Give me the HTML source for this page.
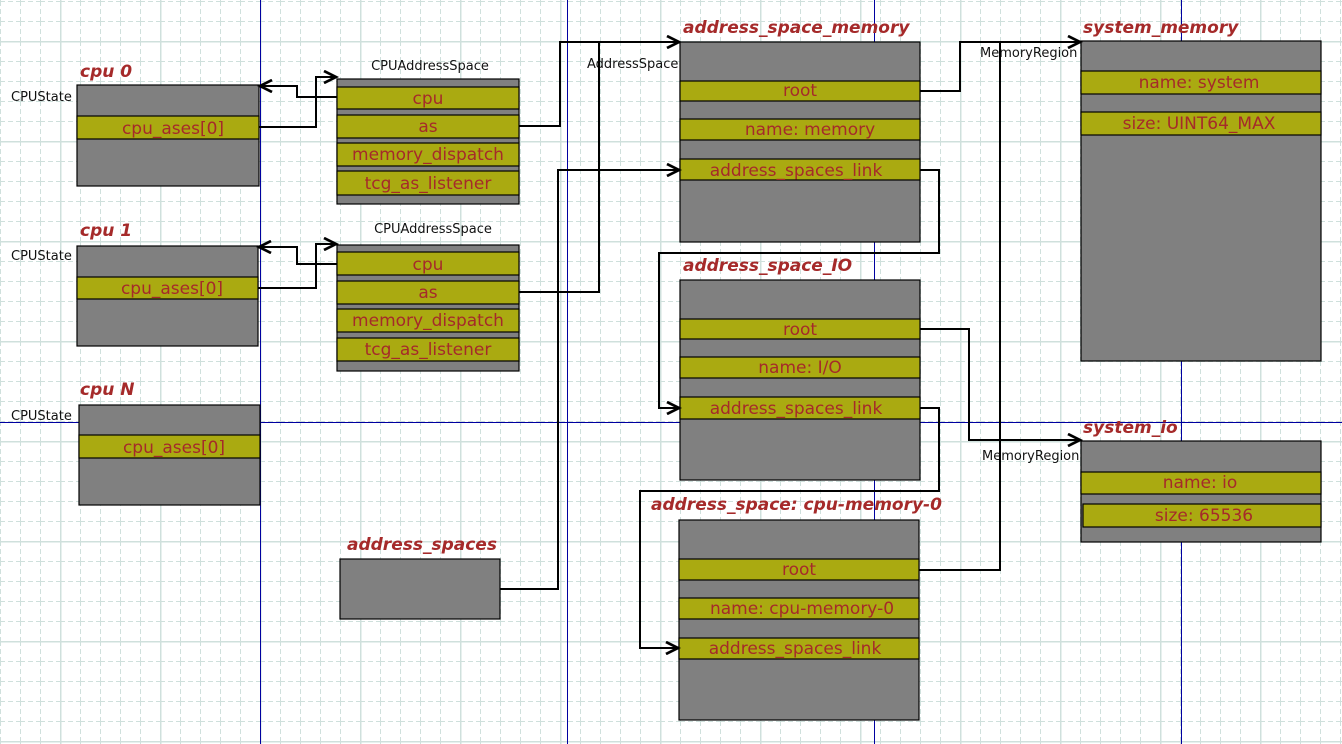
<!DOCTYPE html>
<html><head><meta charset="utf-8"><style>
html,body{margin:0;padding:0;background:#fff;}
svg{display:block;}
.t{font-family:"DejaVu Sans","Liberation Sans",sans-serif;font-size:17px;fill:#a52a2a;text-anchor:middle;}
.h{font-family:"DejaVu Sans","Liberation Sans",sans-serif;font-size:17px;font-weight:bold;font-style:italic;fill:#a52a2a;}
.l{font-family:"DejaVu Sans","Liberation Sans",sans-serif;font-size:13px;fill:#111;}
.b{fill:#808080;stroke:#000;stroke-width:1.2;}
.f{fill:#aaaa11;stroke:#000;stroke-width:1.2;}
.c{fill:none;stroke:#000;stroke-width:2;}
</style></head><body>
<svg width="1342" height="744" xmlns="http://www.w3.org/2000/svg" shape-rendering="crispEdges">
<defs>
<pattern id="mn" x="0" y="1" width="20" height="20" patternUnits="userSpaceOnUse">
<path d="M0 0.5H20M0.5 0V20" stroke="#cfe0dc" stroke-width="1" stroke-dasharray="5 3" fill="none"/>
</pattern>
<pattern id="mj" x="60" y="41" width="100" height="100" patternUnits="userSpaceOnUse">
<path d="M0 0.5H100M0.5 0V100" stroke="#cfe0dc" stroke-width="1.5" fill="none"/>
</pattern>
<marker id="a" markerWidth="16" markerHeight="14" refX="13" refY="7" orient="auto" markerUnits="userSpaceOnUse">
<path d="M1 1L13 7L1 13" fill="none" stroke="#000" stroke-width="2.5"/>
</marker>
</defs>
<rect width="1342" height="744" fill="url(#mn)"/>
<rect width="1342" height="744" fill="url(#mj)"/>
<g stroke="#0000a0" stroke-width="1">
<line x1="260.5" y1="0" x2="260.5" y2="744"/><line x1="567.5" y1="0" x2="567.5" y2="744"/>
<line x1="874.5" y1="0" x2="874.5" y2="744"/><line x1="1181.5" y1="0" x2="1181.5" y2="744"/>
<line x1="0" y1="422.5" x2="1342" y2="422.5"/>
</g>
<g shape-rendering="auto">
<text class="h" x="80" y="77">cpu 0</text><text class="l" x="11" y="101">CPUState</text>
<rect class="b" x="77" y="85" width="182" height="101"/><rect class="f" x="77" y="116" width="182" height="23"/>
<text class="t" x="173" y="134">cpu_ases[0]</text>

<text class="h" x="80" y="236">cpu 1</text><text class="l" x="11" y="260">CPUState</text>
<rect class="b" x="77" y="246" width="181" height="100"/><rect class="f" x="77" y="277" width="181" height="22"/>
<text class="t" x="172" y="294">cpu_ases[0]</text>

<text class="h" x="80" y="395">cpu N</text><text class="l" x="11" y="420">CPUState</text>
<rect class="b" x="79" y="405" width="181" height="100"/><rect class="f" x="79" y="435" width="181" height="23"/>
<text class="t" x="174" y="453">cpu_ases[0]</text>

<text class="l" x="430" y="70" text-anchor="middle">CPUAddressSpace</text>
<rect class="b" x="337" y="79" width="182" height="125"/>
<rect class="f" x="337" y="87" width="182" height="22"/><text class="t" x="428" y="104">cpu</text>
<rect class="f" x="337" y="115" width="182" height="23"/><text class="t" x="428" y="132">as</text>
<rect class="f" x="337" y="143" width="182" height="23"/><text class="t" x="428" y="160">memory_dispatch</text>
<rect class="f" x="337" y="171" width="182" height="24"/><text class="t" x="428" y="189">tcg_as_listener</text>

<text class="l" x="433" y="233" text-anchor="middle">CPUAddressSpace</text>
<rect class="b" x="337" y="245" width="182" height="126"/>
<rect class="f" x="337" y="252" width="182" height="23"/><text class="t" x="428" y="270">cpu</text>
<rect class="f" x="337" y="281" width="182" height="23"/><text class="t" x="428" y="298">as</text>
<rect class="f" x="337" y="309" width="182" height="23"/><text class="t" x="428" y="326">memory_dispatch</text>
<rect class="f" x="337" y="338" width="182" height="23"/><text class="t" x="428" y="355">tcg_as_listener</text>

<text class="h" x="347" y="550">address_spaces</text>
<rect class="b" x="340" y="559" width="160" height="60"/>

<text class="h" x="683" y="33">address_space_memory</text><text class="l" x="587" y="68">AddressSpace</text>
<rect class="b" x="680" y="42" width="240" height="200"/>
<rect class="f" x="680" y="81" width="240" height="20"/><text class="t" x="800" y="96">root</text>
<rect class="f" x="680" y="119" width="240" height="21"/><text class="t" x="810" y="135">name: memory</text>
<rect class="f" x="680" y="159" width="240" height="21"/><text class="t" x="796" y="176">address_spaces_link</text>

<text class="h" x="683" y="271">address_space_IO</text>
<rect class="b" x="680" y="280" width="240" height="200"/>
<rect class="f" x="680" y="319" width="240" height="20"/><text class="t" x="800" y="335">root</text>
<rect class="f" x="680" y="357" width="240" height="21"/><text class="t" x="800" y="373">name: I/O</text>
<rect class="f" x="680" y="397" width="240" height="22"/><text class="t" x="796" y="414">address_spaces_link</text>

<text class="h" x="651" y="510">address_space: cpu-memory-0</text>
<rect class="b" x="679" y="520" width="240" height="200"/>
<rect class="f" x="679" y="559" width="240" height="21"/><text class="t" x="799" y="575">root</text>
<rect class="f" x="679" y="598" width="240" height="21"/><text class="t" x="802" y="614">name: cpu-memory-0</text>
<rect class="f" x="679" y="638" width="240" height="21"/><text class="t" x="795" y="654">address_spaces_link</text>

<text class="h" x="1083" y="33">system_memory</text><text class="l" x="980" y="57">MemoryRegion</text>
<rect class="b" x="1081" y="41" width="240" height="320"/>
<rect class="f" x="1081" y="71" width="240" height="23"/><text class="t" x="1199" y="88">name: system</text>
<rect class="f" x="1081" y="112" width="240" height="23"/><text class="t" x="1199" y="129">size: UINT64_MAX</text>

<text class="h" x="1083" y="433">system_io</text><text class="l" x="982" y="460">MemoryRegion</text>
<rect class="b" x="1081" y="441" width="240" height="101"/>
<rect class="f" x="1081" y="472" width="240" height="22"/><text class="t" x="1200" y="488">name: io</text>
<rect class="f" x="1083" y="504" width="238" height="23"/><text class="t" x="1204" y="521">size: 65536</text>
</g>
<polyline class="c" points="259,127 316,127 316,77 336,77" marker-end="url(#a)"/>
<polyline class="c" points="337,97 297,97 297,86 260,86" marker-end="url(#a)"/>
<polyline class="c" points="258,288 316,288 316,244 336,244" marker-end="url(#a)"/>
<polyline class="c" points="337,264 297,264 297,247 259,247" marker-end="url(#a)"/>
<polyline class="c" points="519,126 560,126 560,42 679,42" marker-end="url(#a)"/>
<polyline class="c" points="519,292 599,292 599,42"/>
<polyline class="c" points="500,589 558,589 558,170 679,170" marker-end="url(#a)"/>
<polyline class="c" points="920,170 939,170 939,253 659,253 659,408 679,408" marker-end="url(#a)"/>
<polyline class="c" points="920,408 939,408 939,491 640,491 640,648 678,648" marker-end="url(#a)"/>
<polyline class="c" points="920,91 960,91 960,42 1080,42" marker-end="url(#a)"/>
<polyline class="c" points="920,329 969,329 969,440 1080,440" marker-end="url(#a)"/>
<polyline class="c" points="919,570 1000,570 1000,42"/>
</svg>
</body></html>
